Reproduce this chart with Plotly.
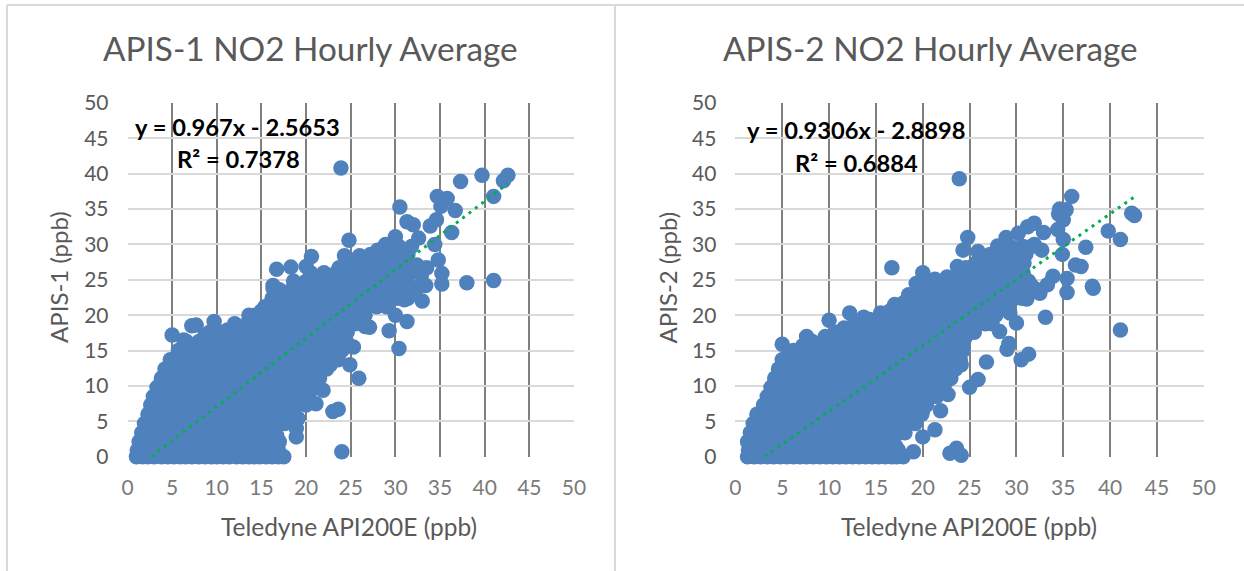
import plotly.graph_objects as go

W, H = 1244, 571
titles = ["APIS-1 NO2 Hourly Average", "APIS-2 NO2 Hourly Average"]
y_titles = ["APIS-1 (ppb)", "APIS-2 (ppb)"]
x_title = "Teledyne API200E (ppb)"
tick_values = [0, 5, 10, 15, 20, 25, 30, 35, 40, 45, 50]
eq_1 = ["y = 0.967x - 2.5653", "R² = 0.7378"]
eq_2 = ["y = 0.9306x - 2.8898", "R² = 0.6884"]
trend_1_x = [2.65, 42.6]
trend_1_y = [0, 38.63]
trend_2_x = [3.1, 42.5]
trend_2_y = [0, 36.66]

# Scattered points
apis1_out_x = [23.9,37.3,39.7,42.6,42.1,41.0,34.7,35.8,35.1,36.7,30.5,34.6,33.9,31.3,32.0,36.3,34.4,24.8,32.6,30.0,28.9,34.8,20.6,18.3,16.7,24.3,26.0,32.4,33.5,35.2,41.0,38.0,35.2,16.3,20.0,
               24.0,23.6,23.0,21.9,22.7,24.9,25.9,25.3,24.2,25.6,27.1,26.6,29.3,30.0,30.4,31.3,33.0,31.0,32.4,28.0,26.7,21.1,20.0,19.1,18.9,18.9,17.4,16.7,
               5.0,6.3,7.2,7.7,9.7,8.7,11.2,13.6,15.6,16.3,33.4,32.9]
apis1_out_y = [40.8,38.9,39.8,39.8,39.0,36.8,36.8,36.5,35.4,34.8,35.3,33.5,32.6,33.2,32.8,31.7,30.0,30.6,30.9,31.1,30.0,27.8,28.3,26.8,26.5,28.4,28.4,27.1,26.7,25.9,24.9,24.6,24.4,24.2,26.9,
               0.7,6.7,6.4,9.4,13.0,13.0,11.1,15.5,15.3,18.9,18.3,18.4,17.8,20.0,15.3,19.1,22.0,22.2,23.8,22.0,21.2,7.5,7.3,5.4,2.8,4.0,5.4,3.0,
               17.2,16.5,18.5,18.6,19.1,17.2,17.9,20.0,21.0,23.8,24.2,25.6]
# Dense cloud of the left panel: (APIS-1 value, Teledyne values)
apis1_rows = [
 (0.0, [1.0,2.3,3.8,5.2,6.5,8.0,9.4,10.7,12.2,13.6,14.8,16.2,17.5]),
 (0.9, [1.1,1.8,3.1,4.6,5.9,7.3,8.6,10.1,11.5,12.9,14.4,15.6,16.9]),
 (2.1, [1.3,2.4,3.8,5.2,6.6,8.1,9.4,10.8,12.2,13.5,15.0,16.2,17.0]),
 (3.4, [1.6,3.1,4.5,5.9,7.3,8.7,10.0,11.5,12.9,14.2,15.5,16.4]),
 (4.7, [1.9,2.4,3.8,5.3,6.6,8.0,9.4,10.8,12.2,13.6,15.0,16.2,17.6]),
 (6.0, [2.3,3.1,4.5,5.9,7.2,8.7,10.1,11.5,12.9,14.3,15.7,17.1,18.4]),
 (7.3, [2.6,3.8,5.2,6.6,8.0,9.4,10.8,12.2,13.6,15.0,16.4,17.8,19.0]),
 (8.5, [2.9,4.5,5.9,7.3,8.7,10.1,11.5,12.9,14.3,15.7,17.1,18.5,19.9]),
 (9.8, [3.3,4.7,6.2,7.6,9.0,10.4,11.8,13.2,14.6,16.0,17.4,18.8,20.2,20.9]),
 (11.1, [3.8,5.2,6.6,8.0,9.4,10.8,12.2,13.6,15.0,16.4,17.8,19.2,20.6,21.5]),
 (12.4, [4.2,5.6,7.0,8.4,9.8,11.2,12.6,14.0,15.4,16.8,18.2,19.6,21.0,22.3]),
 (13.7, [4.8,6.2,7.6,9.0,10.4,11.8,13.2,14.6,16.0,17.4,18.8,20.2,21.6,23.0,23.6]),
 (15.0, [5.7,7.2,8.6,10.0,11.4,12.8,14.2,15.6,17.0,18.4,19.8,21.2,22.6,24.0]),
 (16.3, [6.6,8.0,9.3,10.7,12.1,13.5,14.9,16.3,17.7,19.1,20.5,21.9,23.3,24.5]),
 (17.6, [9.2,10.6,12.0,13.4,14.8,16.2,17.6,19.0,20.4,21.8,23.2,24.6]),
 (18.8, [12.0,13.4,14.9,16.3,17.7,19.1,20.5,21.9,23.3,24.7,25.5]),
 (20.0, [14.3,15.6,17.0,18.4,19.8,21.2,22.6,24.0,25.4,26.6]),
 (21.2, [15.4,16.8,18.1,19.5,20.9,22.3,23.7,25.1,26.5,27.9,29.0]),
 (22.4, [16.2,17.6,19.0,20.4,21.8,23.2,24.6,26.0,27.4,28.8,30.2,31.4]),
 (23.6, [17.0,18.4,19.8,21.2,22.6,24.0,25.4,26.8,28.2,29.6,31.0,32.2]),
 (24.8, [18.6,20.0,21.4,22.8,24.2,25.6,27.0,28.4,29.8,31.2]),
 (26.0, [20.5,22.0,23.4,24.8,26.2,27.6,29.0,30.4,31.6]),
 (27.3, [24.6,26.0,27.4,28.8,30.2,31.3]),
 (28.6, [27.2,28.6,30.0,31.4]),
 (29.7, [29.0,30.4,31.8]),
 (0.0, [1.7,3.0,4.5,5.9,7.2,8.7,10.0,11.4,12.9,14.2,15.5,16.9]),
 (1.5, [2.0,3.2,4.6,6.0,7.4,8.8,10.2,11.6,13.0,14.4,15.8]),
 (2.8, [1.9,3.1,4.5,5.9,7.3,8.7,10.1,11.5,12.9,14.3,15.7]),
 (4.0, [2.4,3.8,5.2,6.6,8.0,9.4,10.8,12.2,13.6,15.0,16.0]),
 (5.4, [3.1,4.6,6.0,7.4,8.8,10.2,11.6,13.0,14.4,15.8,17.2]),
 (6.6, [3.4,4.9,6.3,7.7,9.1,10.5,11.9,13.3,14.7,16.1,17.5,18.6]),
 (7.9, [3.7,5.0,6.4,7.8,9.2,10.6,12.0,13.4,14.8,16.2,17.6,19.0]),
 (9.1, [4.0,5.3,6.7,8.1,9.5,10.9,12.3,13.7,15.1,16.5,17.9,19.3,20.4]),
 (10.4, [4.3,5.7,7.1,8.5,9.9,11.3,12.7,14.1,15.5,16.9,18.3,19.7,20.9]),
 (11.7, [4.6,6.1,7.5,8.9,10.3,11.7,13.1,14.5,15.9,17.3,18.7,20.1,21.5]),
 (13.0, [5.2,6.7,8.1,9.5,10.9,12.3,13.7,15.1,16.5,17.9,19.3,20.7,22.1]),
 (14.3, [6.0,7.3,8.7,10.1,11.5,12.9,14.3,15.7,17.1,18.5,19.9,21.3,22.7]),
 (15.7, [7.0,8.5,9.9,11.3,12.7,14.1,15.5,16.9,18.3,19.7,21.1,22.5,23.9]),
 (17.0, [9.7,11.1,12.5,13.9,15.3,16.7,18.1,19.5,20.9,22.3,23.7]),
 (18.2, [12.7,14.1,15.5,16.9,18.3,19.7,21.1,22.5,23.9]),
 (19.4, [13.8,15.0,16.4,17.8,19.2,20.6,22.0,23.4,24.8]),
 (20.6, [15.0,16.3,17.7,19.1,20.5,21.9,23.3,24.7,26.1]),
 (21.8, [16.8,18.2,19.6,21.0,22.4,23.8,25.2,26.6,28.0]),
 (23.0, [17.8,19.2,20.6,22.0,23.4,24.8,26.2,27.6,29.0,30.4]),
 (24.2, [19.0,20.4,21.8,23.2,24.6,26.0,27.4,28.8,30.2,31.6]),
 (25.4, [21.2,22.6,24.0,25.4,26.8,28.2,29.6,30.9]),
 (26.7, [23.7,25.2,26.6,28.0,29.4,30.8]),
 (27.9, [25.6,27.0,28.4,29.8,30.9]),
 (29.2, [28.0,29.4,30.8]),
]

# Scattered points
apis2_out_x = [23.9,35.9,34.6,35.3,34.5,35.0,42.3,42.6,39.8,41.1,37.4,31.9,31.2,32.9,34.4,35.0,30.2,28.9,28.0,32.7,31.9,24.8,24.3,25.9,34.9,36.3,36.9,16.7,20.0,21.3,23.7,35.4,33.9,38.1,
               35.4,38.2,41.1,33.1,31.3,30.5,29.2,29.0,30.0,29.3,26.8,25.9,25.0,24.1,22.7,21.9,21.3,20.0,19.0,22.9,23.6,24.1,28.2,31.1,32.5,33.3,
               5.0,7.6,10.0,12.2,13.7,15.5,17.0,18.5,19.3]
apis2_out_y = [39.3,36.8,35.0,34.9,34.3,33.5,34.4,34.1,31.9,30.7,29.6,33.0,32.5,31.7,32.1,30.7,31.6,31.0,29.8,29.2,30.0,31.0,29.2,29.0,28.6,27.1,26.9,26.7,26.0,25.1,26.9,25.2,25.5,24.1,
               23.2,23.8,17.9,19.7,14.5,13.7,16.0,15.2,18.9,20.3,13.4,10.9,9.8,13.0,8.8,6.5,3.8,2.8,0.7,0.5,1.2,0.2,17.7,22.3,23.1,24.3,
               15.9,17.0,19.3,20.3,19.7,20.3,21.5,22.9,24.5]
# Dense cloud of the right panel: (APIS-2 value, Teledyne values)
apis2_rows = [
 (0.0, [1.3,2.7,4.1,5.5,6.9,8.3,9.7,11.1,12.5,13.9,15.3,16.7,17.9]),
 (0.9, [1.4,2.0,3.4,4.8,6.2,7.6,9.0,10.4,11.8,13.2,14.6,16.0,17.4]),
 (2.1, [1.3,2.7,4.1,5.5,6.9,8.3,9.7,11.1,12.5,13.9,15.3,16.5]),
 (3.4, [1.6,3.4,4.8,6.2,7.6,9.0,10.4,11.8,13.2,14.6,16.0,17.4,18.1]),
 (4.7, [1.9,2.8,4.1,5.5,6.9,8.3,9.7,11.1,12.5,13.9,15.3,16.7,18.1,19.2]),
 (6.0, [2.3,3.4,4.8,6.2,7.6,9.0,10.4,11.8,13.2,14.6,16.0,17.4,18.8,19.9]),
 (7.3, [3.0,4.2,5.6,7.0,8.4,9.8,11.2,12.6,14.0,15.4,16.8,18.2,19.6,20.4]),
 (8.5, [3.4,4.9,6.3,7.7,9.1,10.5,11.9,13.3,14.7,16.1,17.5,18.9,20.3,21.5]),
 (9.8, [3.8,5.2,6.6,8.0,9.4,10.8,12.2,13.6,15.0,16.4,17.8,19.2,20.6,22.0]),
 (11.1, [4.2,5.7,7.1,8.5,9.9,11.3,12.7,14.1,15.5,16.9,18.3,19.7,21.1,22.5,23.0]),
 (12.4, [4.6,6.0,7.4,8.8,10.2,11.6,13.0,14.4,15.8,17.2,18.6,20.0,21.4,22.8,23.5]),
 (13.7, [5.0,6.4,7.8,9.2,10.6,12.0,13.4,14.8,16.2,17.6,19.0,20.4,21.8,23.2,24.0]),
 (15.0, [6.2,7.6,9.0,10.4,11.8,13.2,14.6,16.0,17.4,18.8,20.2,21.6,23.0,24.3]),
 (16.3, [8.2,9.6,11.0,12.4,13.8,15.2,16.6,18.0,19.4,20.8,22.2,23.6,24.3]),
 (17.6, [10.8,12.2,13.6,15.0,16.4,17.8,19.2,20.6,22.0,23.4,24.8,25.5]),
 (18.8, [12.7,14.1,15.5,16.9,18.3,19.7,21.1,22.5,23.9,25.3,26.7,27.4]),
 (20.0, [15.8,17.2,18.6,20.0,21.4,22.8,24.2,25.6,27.0,27.8]),
 (21.2, [17.4,18.8,20.2,21.6,23.0,24.4,25.8,27.2,28.6]),
 (22.4, [18.6,20.0,21.4,22.8,24.2,25.6,27.0,28.4,29.8,30.6]),
 (23.6, [19.7,21.1,22.5,23.9,25.3,26.7,28.1,29.5,30.9,32.2]),
 (24.8, [21.5,22.9,24.3,25.7,27.1,28.5,29.9,31.3]),
 (26.0, [23.9,25.3,26.7,28.1,29.5,30.7]),
 (27.3, [25.6,27.0,28.4,29.8,30.8]),
 (28.6, [27.2,28.6,30.0,31.0]),
 (29.7, [29.3,30.7,31.6]),
 (0.0, [2.0,3.4,4.8,6.2,7.6,9.0,10.4,11.8,13.2,14.6,16.0,17.2]),
 (1.5, [2.1,3.4,4.8,6.2,7.6,9.0,10.4,11.8,13.2,14.6,16.0,17.1]),
 (2.8, [2.1,3.4,4.8,6.2,7.6,9.0,10.4,11.8,13.2,14.6,16.0]),
 (4.0, [2.7,4.1,5.5,6.9,8.3,9.7,11.1,12.5,13.9,15.3,16.7]),
 (5.4, [3.4,4.8,6.2,7.6,9.0,10.4,11.8,13.2,14.6,16.0,17.4,18.8]),
 (6.6, [3.4,4.9,6.3,7.7,9.1,10.5,11.9,13.3,14.7,16.1,17.5,18.9,20.0]),
 (7.9, [3.9,4.9,6.3,7.7,9.1,10.5,11.9,13.3,14.7,16.1,17.5,18.9,20.3]),
 (9.1, [4.2,5.6,7.0,8.4,9.8,11.2,12.6,14.0,15.4,16.8,18.2,19.6,21.0]),
 (10.4, [4.5,5.9,7.3,8.7,10.1,11.5,12.9,14.3,15.7,17.1,18.5,19.9,21.3,22.4]),
 (11.7, [5.0,6.4,7.8,9.2,10.6,12.0,13.4,14.8,16.2,17.6,19.0,20.4,21.8,22.8]),
 (13.0, [5.3,6.7,8.1,9.5,10.9,12.3,13.7,15.1,16.5,17.9,19.3,20.7,22.1,23.5]),
 (14.3, [5.7,7.1,8.5,9.9,11.3,12.7,14.1,15.5,16.9,18.3,19.7,21.1,22.5,23.8]),
 (15.7, [7.2,8.6,10.0,11.4,12.8,14.2,15.6,17.0,18.4,19.8,21.2,22.6,23.9]),
 (17.0, [9.6,10.9,12.3,13.7,15.1,16.5,17.9,19.3,20.7,22.1,23.5,24.6]),
 (18.2, [11.6,12.9,14.3,15.7,17.1,18.5,19.9,21.3,22.7,24.1,25.5]),
 (19.4, [14.3,15.5,16.9,18.3,19.7,21.1,22.5,23.9,25.3,26.7]),
 (20.6, [16.5,17.9,19.3,20.7,22.1,23.5,24.9,26.3,27.7]),
 (21.8, [18.0,19.4,20.8,22.2,23.6,25.0,26.4,27.8,29.2]),
 (23.0, [19.2,20.6,22.0,23.4,24.8,26.2,27.6,29.0,30.4,31.3]),
 (24.2, [20.4,21.8,23.2,24.6,26.0,27.4,28.8,30.2,31.6]),
 (25.4, [22.6,24.0,25.4,26.8,28.2,29.6,30.8]),
 (26.7, [24.6,26.0,27.4,28.8,30.2]),
 (27.9, [26.3,27.7,29.1,30.5]),
 (29.1, [28.0,29.4,30.8]),
]

def flatten(rows, ox, oy):
    xs, ys = list(ox), list(oy)
    for yv, row in rows:
        xs += row
        ys += [yv] * len(row)
    return xs, ys

BLUE, GREEN, TXT = "#4f81bd", "#00b050", "#595959"
FONT = "Lato"
fig = go.Figure()
panels = [
    ("", "", apis1_rows, apis1_out_x, apis1_out_y, trend_1_x, trend_1_y),
    ("2", "2", apis2_rows, apis2_out_x, apis2_out_y, trend_2_x, trend_2_y),
]
for sx, sy, rows, ox, oy, tx, ty in panels:
    xs, ys = flatten(rows, ox, oy)
    fig.add_trace(go.Scatter(x=xs, y=ys, xaxis="x" + sx, yaxis="y" + sy, mode="markers",
                             marker=dict(color=BLUE, size=15.5, line=dict(width=0)), cliponaxis=False))
    fig.add_trace(go.Scatter(x=tx, y=ty, xaxis="x" + sx, yaxis="y" + sy, mode="lines",
                             line=dict(color=GREEN, width=3, dash="3px,5px"), cliponaxis=False))

def xax(a, b, anchor):
    return dict(domain=[a / W, b / W], range=[0, 50], tickvals=tick_values, anchor=anchor, automargin=False,
                showgrid=True, gridcolor="#7f7f7f", gridwidth=1.6, zeroline=False, showline=False,
                ticklabelstandoff=16, tickfont=dict(family=FONT, size=21, color="#7a7a7a"), layer="below traces")

def yax(anchor):
    return dict(domain=[(H - 456.7) / H, (H - 103) / H], range=[0, 50], tickvals=tick_values, anchor=anchor, automargin=False,
                showgrid=True, gridcolor="#d9d9d9", gridwidth=2, zeroline=False, showline=False,
                ticklabelstandoff=18, tickfont=dict(family=FONT, size=21, color=TXT), layer="below traces")

def text(x, y, s, size, color=TXT, bold=False, angle=0):
    return dict(xref="paper", yref="paper", x=x / W, y=1 - y / H, text="<b>%s</b>" % s if bold else s, showarrow=False,
                xanchor="center", yanchor="middle", textangle=angle,
                font=dict(family=FONT, size=size, color=color))

annotations = [
    text(310, 48, titles[0], 33.3), text(930, 48, titles[1], 33.3),
    text(349, 526, x_title, 24.5), text(969, 526, x_title, 24.5),
    text(58, 277, y_titles[0], 24, angle=-90), text(666.5, 277, y_titles[1], 24, angle=-90),
    text(237.5, 127, eq_1[0], 23.7, "#000000", True), text(238.5, 159, eq_1[1], 23.7, "#000000", True),
    text(856, 130, eq_2[0], 23.7, "#000000", True), text(856, 163, eq_2[1], 23.7, "#000000", True),
]
frame = dict(type="line", xref="paper", yref="paper", line=dict(color="#d9d9d9", width=2), layer="below")
shapes = [
    dict(frame, x0=7 / W, x1=7 / W, y0=0, y1=1 - 5 / H),
    dict(frame, x0=615 / W, x1=615 / W, y0=0, y1=1 - 5 / H),
    dict(frame, x0=7 / W, x1=1, y0=1 - 5 / H, y1=1 - 5 / H),
]
fig.update_layout(
    width=W, height=H, margin=dict(l=0, r=0, t=0, b=0), showlegend=False,
    paper_bgcolor="white", plot_bgcolor="white",
    xaxis=xax(127.5, 574, "y"), yaxis=yax("x"),
    xaxis2=xax(735.4, 1203.8, "y2"), yaxis2=yax("x2"),
    annotations=annotations, shapes=shapes,
)
fig.write_html("out.html", config={"displayModeBar": False},
               post_script="document.body.style.margin='0';document.body.style.overflow='hidden';")
